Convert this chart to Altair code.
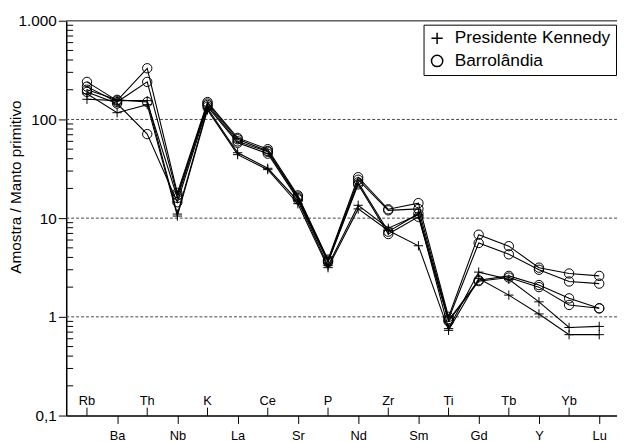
import altair as alt
import pandas as pd

elements = ["Rb", "Ba", "Th", "Nb", "K", "La", "Ce", "Sr", "P", "Nd",
            "Zr", "Sm", "Ti", "Gd", "Tb", "Y", "Yb", "Lu"]

pk1 = [160, 155, 155, 11.0, 130, 46, 32, 15.0, 3.30, 13.5, 7.9, 10.8, 0.76, 2.84, 2.40, 1.42, 0.78, 0.80]
pk2 = [182, 117, 141, 10.5, 125, 44, 31, 14.0, 3.15, 12.4, 7.5, 5.25, 0.73, 2.45, 1.66, 1.07, 0.66, 0.66]
b1 = [240, 155, 330, 18.0, 150, 65, 50, 17.0, 3.80, 26.0, 12.3, 14.2, 1.00, 6.8, 5.2, 3.15, 2.75, 2.60]
b2 = [215, 150, 240, 17.0, 145, 63, 48, 16.5, 3.70, 24.5, 12.0, 12.4, 0.95, 5.6, 4.3, 3.00, 2.28, 2.17]
b3 = [200, 158, 150, 16.0, 140, 60, 47, 16.0, 3.60, 23.0, 7.3, 11.1, 0.92, 2.35, 2.6, 2.10, 1.54, 1.22]
b4 = [190, 145, 71, 14.5, 135, 58, 45, 15.5, 3.60, 22.0, 6.9, 10.3, 0.90, 2.30, 2.5, 2.00, 1.32, 1.22]

groups = {"PK1": ("Presidente Kennedy", pk1), "PK2": ("Presidente Kennedy", pk2),
          "B1": ("Barrolândia", b1), "B2": ("Barrolândia", b2),
          "B3": ("Barrolândia", b3), "B4": ("Barrolândia", b4)}

major_ticks = [0.1, 1, 10, 100, 1000]
grid_values = [1, 10, 100]
minor_ticks = [m * d for d in [0.1, 1, 10, 100] for m in range(2, 10)]

rows = []
for sid, (grp, vals) in groups.items():
    for i, (el, v) in enumerate(zip(elements, vals)):
        rows.append({"sample": sid, "group": grp, "idx": i, "el": el, "v": v})
df = pd.DataFrame(rows)

el_df = pd.DataFrame({"idx": list(range(len(elements))), "el": elements})
odd_df = el_df[el_df.idx % 2 == 0]   # Rb, Th, K ... drawn above the axis
even_vals = [i for i in range(len(elements)) if i % 2 == 1]

W, H = 558, 400
xs = alt.Scale(domain=[-0.688, 17.59], nice=False, zero=False)
ys = alt.Scale(type="log", domain=[0.1, 1000], nice=False)

label_map = "{" + ",".join(f"'{i}':'{e}'" for i, e in enumerate(elements)) + "}"

xenc = alt.X("idx:Q", scale=xs,
             axis=alt.Axis(values=even_vals, labelExpr=f"{label_map}[''+datum.value]",
                           tickSize=8, labelPadding=6, labelFontSize=13, grid=False,
                           title=None, domainColor="black", domainWidth=1.5,
                           tickColor="black", tickWidth=1, labelColor="black",
                           labelFont="Liberation Sans", labelBaseline="top"))
yenc = alt.Y("v:Q", scale=ys,
             axis=alt.Axis(values=major_ticks,
                           labelExpr="datum.value >= 1000 ? '1.000' : datum.value < 0.5 ? '0,1' : format(datum.value, 'd')",
                           tickSize=8, labelPadding=2, labelFontSize=15.5, grid=False,
                           title="Amostra / Manto primitivo", titleFontSize=15.5,
                           titleFontWeight="normal", titleFont="Liberation Sans",
                           titleColor="black", titleX=-46, titleY=168,
                           titleBaseline="alphabetic", titleAlign="center", titleAngle=270,
                           domainColor="black", domainWidth=1.5, tickColor="black",
                           labelColor="black", labelFont="Liberation Sans"))

plus_path = "M-1,0H1M0,-1V1"

lines = alt.Chart(df).mark_line(color="black", strokeWidth=1.1).encode(
    x=xenc, y=yenc, detail="sample:N", order="idx:Q")

points = alt.Chart(df).mark_point(filled=False, color="black", strokeWidth=1, size=90, opacity=1).encode(
    x=alt.X("idx:Q", scale=xs), y=alt.Y("v:Q", scale=ys),
    shape=alt.Shape("group:N",
                    scale=alt.Scale(domain=["Presidente Kennedy", "Barrolândia"],
                                    range=[plus_path, "circle"]),
                    legend=alt.Legend(title=None, orient="none", legendX=362, legendY=4,
                                      strokeColor="black", fillColor="white", padding=5,
                                      symbolSize=130, symbolStrokeWidth=1.5,
                                      symbolStrokeColor="black", symbolFillColor="transparent",
                                      labelFontSize=17.5, labelFont="Liberation Sans",
                                      labelColor="black", labelOffset=9, rowPadding=4,
                                      labelLimit=300)))

grid = alt.Chart(pd.DataFrame({"v": grid_values})).mark_rule(
    color="#444", strokeWidth=1, strokeDash=[3, 2]).encode(
    y=alt.Y("v:Q", scale=ys), x=alt.value(0), x2=alt.value(W))

top = alt.Chart(pd.DataFrame({"v": [1000]})).mark_rule(color="#666", strokeWidth=1.5).encode(
    y=alt.Y("v:Q", scale=ys), x=alt.value(0), x2=alt.value(W))

minor = alt.Chart(pd.DataFrame({"v": minor_ticks})).mark_rule(color="black", strokeWidth=1).encode(
    y=alt.Y("v:Q", scale=ys), x=alt.value(0), x2=alt.value(7))

odd_ticks = alt.Chart(odd_df).mark_rule(color="black", strokeWidth=1).encode(
    x=alt.X("idx:Q", scale=xs), y=alt.value(H - 8), y2=alt.value(H))

odd_labels = alt.Chart(odd_df).mark_text(fontSize=13, font="Liberation Sans", color="black",
                                         baseline="alphabetic", align="center").encode(
    x=alt.X("idx:Q", scale=xs), y=alt.value(H - 11), text="el:N")

chart = alt.layer(grid, top, minor, odd_ticks, odd_labels, lines, points).properties(
    width=W, height=H,
    autosize=alt.AutoSizeParams(type="none"),
    padding={"left": 59, "top": 10, "right": 0, "bottom": 32},
).configure_view(stroke=None).configure(background="white")

chart.save("out.html", embed_options={"renderer": "svg", "actions": False})
